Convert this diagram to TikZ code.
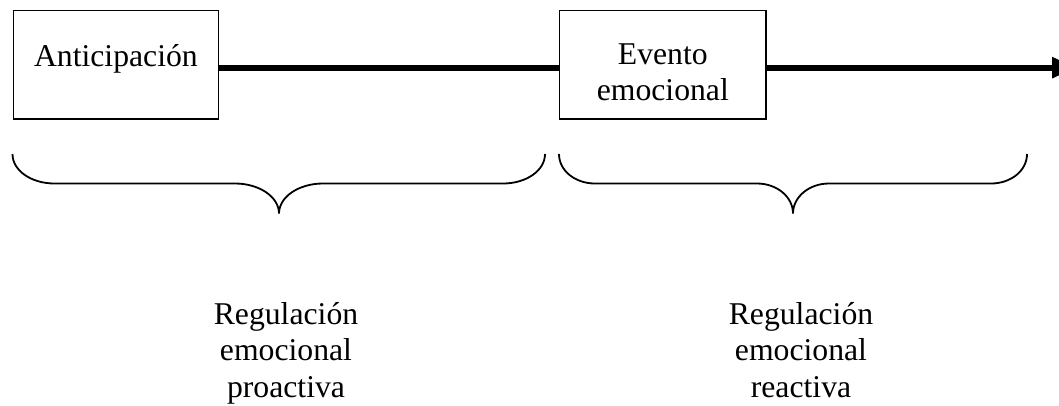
\documentclass[tikz,border=0pt]{standalone}
\usepackage{fontspec}
\setmainfont{Liberation Serif}
\usetikzlibrary{arrows.meta}

\begin{document}
\begin{tikzpicture}[x=1pt, y=-1pt,
  every node/.style={font=\fontsize{31.7}{36.5}\selectfont},
  stagebox/.style={draw, line width=1.3pt, inner xsep=0pt, inner ysep=0pt,
    align=center},
  bracetext/.style={align=center, anchor=base, inner sep=0pt},
  flow/.style={line width=5.7pt},
  bracestroke/.style={line width=1.8pt}
]
\clip (0,0) rectangle (1059,405);

% the two stages of the timeline (box height 108.4pt, last baseline set by text height)
\node[stagebox, minimum width=205pt, text height=55.7pt, text depth=52.7pt,
  anchor=north] (antic) at (115.9,10) {Anticipación};
\node[stagebox, minimum width=206.4pt, text height=90pt, text depth=18.4pt,
  anchor=north] (evento) at (662.8,10) {Evento\\emocional};
\coordinate (timeEnd) at (1076,67);

% time axis
\draw[flow] ([yshift=-2.8pt]antic.east) -- ([yshift=-2.8pt]evento.west);
\draw[flow, -{Triangle[length=24pt, width=20pt]}] ([yshift=-2.8pt]evento.east)
  -- ([yshift=-2.8pt]evento.east -| timeEnd);

% braces under each phase
\draw[bracestroke] (12.5,154) .. controls (12.5,170.6) and (31.3,183.5) .. (54.5,183.5)
  -- (235,183.5) .. controls (259.3,183.5) and (279,196.9) .. (279,213.5)
  .. controls (279,196.9) and (298.7,183.5) .. (323,183.5)
  -- (503,183.5) .. controls (526.2,183.5) and (545,170.6) .. (545,154);
\draw[bracestroke] (559,154) .. controls (559,170.6) and (575.1,183.5) .. (595,183.5)
  -- (757,183.5) .. controls (776.9,183.5) and (793,196.9) .. (793,213.5)
  .. controls (793,196.9) and (809.1,183.5) .. (829,183.5)
  -- (991,183.5) .. controls (1010.9,183.5) and (1027,170.6) .. (1027,154);

% phase labels (anchored at the baseline of the last line)
\node[bracetext] (proactiva) at (286,397) {Regulación\\emocional\\proactiva};
\node[bracetext] (reactiva) at (801,397) {Regulación\\emocional\\reactiva};
\end{tikzpicture}
\end{document}
